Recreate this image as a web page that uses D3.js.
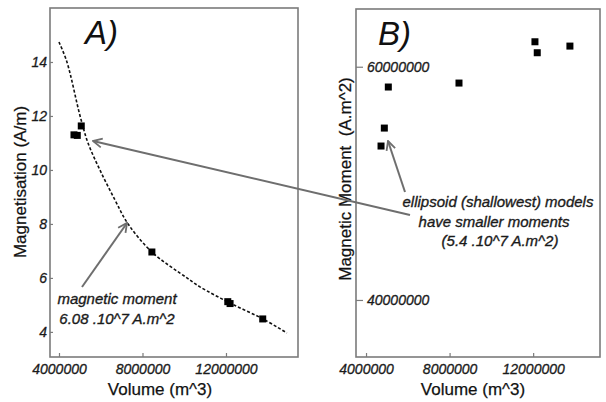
<!DOCTYPE html>
<html>
<head>
<meta charset="utf-8">
<script src="https://cdn.jsdelivr.net/npm/d3@7/dist/d3.min.js"></script>
<style>
  html, body { margin: 0; padding: 0; background: #ffffff; }
  svg { display: block; }
  text { font-family: "Liberation Sans", Arial, sans-serif; }
</style>
</head>
<body>
<svg id="chart" width="606" height="402"></svg>
<script>
// Model results: body volume, fitted magnetisation and total magnetic moment
const volume        = [4718000, 4876000, 5067000, 8450000, 12086000, 12196000, 13760000];
const magnetisation = [11.30, 11.28, 11.63, 6.96, 5.12, 5.05, 4.48];
const moment        = [53200000, 54740000, 58260000, 58600000, 62140000, 61200000, 61770000];

// Constant-moment curve (6.08e7 A.m^2) traced through the magnetisation panel
const curveVolume        = [4000000, 4380000, 5010000, 5390000, 5960000, 6680000, 7310000, 8450000, 10130000, 10750000, 12190000, 13770000, 14920000];
const curveMagnetisation = [14.74, 14.00, 12.00, 11.00, 10.00, 8.89, 8.00, 6.96, 6.00, 5.67, 5.07, 4.48, 3.96];

// Tick values
const volumeTicks = [4000000, 8000000, 12000000];
const magTicks    = [4, 6, 8, 10, 12, 14];
const momentTicks = [40000000, 60000000];

const svg = d3.select("#chart");
const frameColor = "#7b7b7b";
const arrowColor = "#6e6e6e";
const textColor = "#1a1a1a";

// Panel boxes
const A = { left: 50, right: 298, top: 8, bottom: 357 };
const B = { left: 356, right: 600, top: 9, bottom: 357 };

const xA = d3.scaleLinear().domain([3569000, 15450000]).range([A.left, A.right]);
const yA = d3.scaleLinear().domain([3.07, 16.0]).range([A.bottom, A.top]);
const xB = d3.scaleLinear().domain([3520000, 15200000]).range([B.left, B.right]);
const yB = d3.scaleLinear().domain([35110000, 64950000]).range([B.bottom, B.top]);

// Arrow marker (open chevron)
const defs = svg.append("defs");
defs.append("marker")
  .attr("id", "chev")
  .attr("viewBox", "0 0 12 12")
  .attr("refX", 11).attr("refY", 6)
  .attr("markerWidth", 12).attr("markerHeight", 12)
  .attr("markerUnits", "userSpaceOnUse")
  .attr("orient", "auto")
  .append("path")
  .attr("d", "M2,1.5 L11,6 L2,10.5")
  .attr("fill", "none")
  .attr("stroke", arrowColor)
  .attr("stroke-width", 1.8);

function frame(p) {
  svg.append("rect")
    .attr("x", p.left).attr("y", p.top)
    .attr("width", p.right - p.left).attr("height", p.bottom - p.top)
    .attr("fill", "none")
    .attr("stroke", frameColor)
    .attr("stroke-width", 1.6);
}

// slightly heavier glyphs, like the printed figure
function heavy(sel, w) {
  sel.attr("stroke", textColor).attr("stroke-width", w).attr("paint-order", "stroke");
}

function styleAxis(g) {
  g.select(".domain").remove();
  g.selectAll(".tick line").attr("stroke", frameColor).attr("stroke-width", 1.2);
  g.selectAll(".tick text")
    .attr("fill", textColor)
    .style("font-size", "14px")
    .style("font-style", "italic")
    .call(heavy, 0.3);
}

// ---------- Panel A: magnetisation vs volume ----------
frame(A);

svg.append("g")
  .attr("transform", `translate(0,${A.bottom})`)
  .call(d3.axisBottom(xA).tickValues(volumeTicks).tickFormat(d3.format("d")).tickSize(-4).tickPadding(7))
  .call(styleAxis);

svg.append("g")
  .attr("transform", `translate(${A.left},0)`)
  .call(d3.axisLeft(yA).tickValues(magTicks).tickFormat(d3.format("d")).tickSize(-3).tickPadding(3))
  .call(styleAxis);

const fitLine = d3.line()
  .x((d, i) => xA(curveVolume[i]))
  .y((d, i) => yA(curveMagnetisation[i]))
  .curve(d3.curveCatmullRom.alpha(0.5));

svg.append("path")
  .datum(curveVolume)
  .attr("d", fitLine)
  .attr("fill", "none")
  .attr("stroke", "#111")
  .attr("stroke-width", 1.6)
  .attr("stroke-dasharray", "3,2");

const sq = 7;
svg.append("g").selectAll("rect")
  .data(volume)
  .join("rect")
  .attr("x", (d) => xA(d) - sq / 2)
  .attr("y", (d, i) => yA(magnetisation[i]) - sq / 2)
  .attr("width", sq).attr("height", sq)
  .attr("fill", "#000");

svg.append("text")
  .attr("x", 85).attr("y", 44)
  .attr("fill", "#111")
  .style("font-size", "33px").style("font-style", "italic")
  .text("A)");

svg.append("text")
  .attr("transform", "translate(26,182) rotate(-90)")
  .attr("text-anchor", "middle")
  .attr("fill", "#111")
  .style("font-size", "17px")
  .call(heavy, 0.25)
  .text("Magnetisation (A/m)");

svg.append("text")
  .attr("x", 160).attr("y", 395)
  .attr("text-anchor", "middle")
  .attr("fill", "#111")
  .style("font-size", "17px")
  .call(heavy, 0.25)
  .text("Volume (m^3)");

// annotation: fitted moment
svg.append("line")
  .attr("x1", 82).attr("y1", 287)
  .attr("x2", 127).attr("y2", 223)
  .attr("stroke", arrowColor).attr("stroke-width", 2)
  .attr("marker-end", "url(#chev)");

const noteA = svg.append("text")
  .attr("fill", textColor)
  .attr("text-anchor", "middle")
  .style("font-size", "15px").style("font-style", "italic")
  .call(heavy, 0.35);
noteA.append("tspan").attr("x", 117).attr("y", 304).text("magnetic moment");
noteA.append("tspan").attr("x", 117).attr("y", 324).text("6.08 .10^7 A.m^2");

// ---------- Panel B: magnetic moment vs volume ----------
frame(B);

svg.append("g")
  .attr("transform", `translate(0,${B.bottom})`)
  .call(d3.axisBottom(xB).tickValues(volumeTicks).tickFormat(d3.format("d")).tickSize(-4).tickPadding(7))
  .call(styleAxis);

svg.append("g")
  .attr("transform", `translate(${B.left},0)`)
  .call(d3.axisRight(yB).tickValues(momentTicks).tickFormat(d3.format("d")).tickSize(7).tickPadding(4))
  .call(styleAxis);

svg.append("g").selectAll("rect")
  .data(volume)
  .join("rect")
  .attr("x", (d) => xB(d) - sq / 2)
  .attr("y", (d, i) => yB(moment[i]) - sq / 2)
  .attr("width", sq).attr("height", sq)
  .attr("fill", "#000");

svg.append("text")
  .attr("x", 378).attr("y", 45)
  .attr("fill", "#111")
  .style("font-size", "33px").style("font-style", "italic")
  .text("B)");

svg.append("text")
  .attr("transform", "translate(351,179) rotate(-90)")
  .attr("text-anchor", "middle")
  .attr("fill", "#111")
  .style("font-size", "17px")
  .style("white-space", "pre")
  .call(heavy, 0.25)
  .text("Magnetic Moment  (A.m^2)");

svg.append("text")
  .attr("x", 473).attr("y", 395)
  .attr("text-anchor", "middle")
  .attr("fill", "#111")
  .style("font-size", "17px")
  .call(heavy, 0.25)
  .text("Volume (m^3)");

// annotation: ellipsoid models
svg.append("line")
  .attr("x1", 405).attr("y1", 192)
  .attr("x2", 388).attr("y2", 141)
  .attr("stroke", arrowColor).attr("stroke-width", 2)
  .attr("marker-end", "url(#chev)");

svg.append("line")
  .attr("x1", 410).attr("y1", 215)
  .attr("x2", 93).attr("y2", 141)
  .attr("stroke", arrowColor).attr("stroke-width", 2)
  .attr("marker-end", "url(#chev)");

const noteB = svg.append("text")
  .attr("fill", textColor)
  .attr("text-anchor", "middle")
  .style("font-size", "15px").style("font-style", "italic")
  .call(heavy, 0.35);
noteB.append("tspan").attr("x", 498).attr("y", 207).text("ellipsoid (shallowest) models");
noteB.append("tspan").attr("x", 494).attr("y", 227).text("have smaller moments");
noteB.append("tspan").attr("x", 500).attr("y", 246).text("(5.4 .10^7 A.m^2)");
</script>
</body>
</html>
